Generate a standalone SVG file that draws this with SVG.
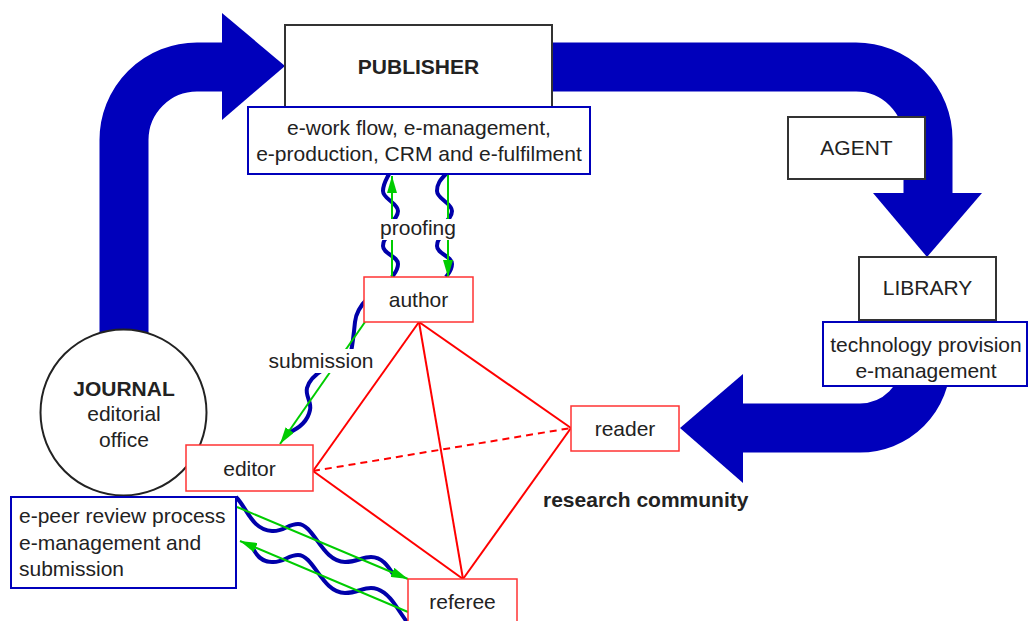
<svg xmlns="http://www.w3.org/2000/svg" width="1029" height="621" viewBox="0 0 1029 621">
<defs>
<style>
text { font-family: "Liberation Sans", Arial, Helvetica, sans-serif; font-size: 21px; fill: #222; }
.b { font-weight: bold; }
.mid { text-anchor: middle; }
.band { fill: none; stroke: #0000bb; stroke-width: 49; }
.head { fill: #0000bb; }
.gbox { fill: #fff; stroke: #333; stroke-width: 2; }
.bbox { fill: #fff; stroke: #0000bb; stroke-width: 2; }
.rbox { fill: #fff; stroke: #ff3333; stroke-width: 1.5; }
.rl { stroke: #ff0000; stroke-width: 2; fill: none; }
.dash { stroke-dasharray: 7,5; }
.wave { fill: none; stroke: #0000aa; stroke-width: 4; }
.ga { stroke: #00cc00; stroke-width: 2; fill: none; marker-end: url(#gh); }
.lbl { fill: #fff; }
</style>
<marker id="gh" markerUnits="userSpaceOnUse" markerWidth="18" markerHeight="10" refX="17" refY="5" orient="auto">
<path d="M0,0 L17,5 L0,10 z" fill="#00cc00"/>
</marker>
</defs>
<rect width="1029" height="621" fill="#fff"/>

<g id="flow">
<path class="band" d="M124,340 L124,140 A73,73 0 0 1 197,67 L226,67"/>
<polygon class="head" points="222,13 285,66 222,120"/>
<path class="band" d="M545,67 L856,67 A72,72 0 0 1 928,139 L928,197"/>
<polygon class="head" points="873,193 982,193 927,257"/>
<path class="band" d="M926,335 L926,362 A66,66 0 0 1 860,428 L739,428"/>
<polygon class="head" points="743,374 743,483 680,428"/>
</g>

<g id="connectors">
<path class="wave" d="M389,174 C386,180 383,184 383,191 C383,199 398,203 398,211 C398,216 394,220 390,224"/>
<path class="wave" d="M388,236 C385,239 383,241 383,246 C383,254 398,256 398,264 C398,270 395,273 392,277"/>
<path class="wave" d="M446,174 C440,180 437,184 437,191 C437,199 452,203 452,211 C452,216 448,220 444,224"/>
<path class="wave" d="M442,236 C439,239 437,241 437,246 C437,254 452,256 452,264 C452,270 449,273 446,277"/>
<line class="ga" x1="392" y1="277" x2="392" y2="176"/>
<line class="ga" x1="448" y1="174" x2="448" y2="277"/>
<rect class="lbl" x="378" y="219" width="80" height="21"/>
<text class="mid" x="418" y="235">proofing</text>

<path class="wave" d="M368,298 C362,304 356,312 355,322 C354,332 353,342 351,352"/>
<path class="wave" d="M324,369 C316,374 309,380 307,388 C305,396 312,402 310,410 C308,420 300,428 288,433"/>
<line class="ga" x1="365" y1="322" x2="280" y2="444"/>
<rect class="lbl" x="267" y="349" width="108" height="24"/>
<text class="mid" x="321" y="368">submission</text>

<path class="wave" d="M236,497 C247,508 252,530 272,531 C283,532 288,524 298,524 C314,524 322,562 345,562 C357,562 362,557 371,557 C382,557 388,566 393,574"/>
<path class="wave" d="M252,546 C256,556 262,562 272,562 C283,563 288,555 298,555 C314,555 322,593 345,593 C357,593 362,588 371,588 C382,588 390,597 396,606 C400,612 404,618 407,622"/>
<line class="ga" x1="237" y1="507" x2="408" y2="579"/>
<line class="ga" x1="408" y1="612" x2="240" y2="541"/>

<line class="rl" x1="419" y1="322" x2="313" y2="471"/>
<line class="rl" x1="419" y1="322" x2="571" y2="428"/>
<line class="rl" x1="419" y1="322" x2="463" y2="579"/>
<line class="rl" x1="313" y1="471" x2="463" y2="579"/>
<line class="rl" x1="571" y1="428" x2="463" y2="579"/>
<line class="rl dash" x1="313" y1="471" x2="571" y2="428"/>
</g>

<g id="publisher">
<rect class="gbox" x="285" y="25" width="267" height="90"/>
<text class="b mid" x="418.5" y="74">PUBLISHER</text>
</g>
<g id="publisher-services">
<rect class="bbox" x="248" y="107" width="342" height="67"/>
<text class="mid" x="419" y="135">e-work flow, e-management,</text>
<text class="mid" x="419" y="161">e-production, CRM and e-fulfilment</text>
</g>
<g id="agent">
<rect class="gbox" x="788" y="117" width="137" height="62"/>
<text class="mid" x="856.5" y="155">AGENT</text>
</g>
<g id="library">
<rect class="gbox" x="859" y="257" width="137" height="63"/>
<text class="mid" x="927.5" y="295">LIBRARY</text>
</g>
<g id="library-services">
<rect class="bbox" x="823" y="322" width="204" height="64"/>
<text class="mid" x="926" y="352">technology provision</text>
<text class="mid" x="926" y="378">e-management</text>
</g>
<g id="journal">
<circle cx="123.5" cy="412.5" r="83" fill="#fff" stroke="#222" stroke-width="2"/>
<text class="b mid" x="124" y="396">JOURNAL</text>
<text class="mid" x="124" y="421">editorial</text>
<text class="mid" x="124" y="447">office</text>
</g>
<g id="journal-services">
<rect class="bbox" x="11" y="497" width="225" height="91"/>
<text x="19" y="523">e-peer review process</text>
<text x="19" y="550">e-management and</text>
<text x="19" y="576">submission</text>
</g>
<g id="author">
<rect class="rbox" x="364" y="277" width="109" height="45"/>
<text class="mid" x="418.5" y="307">author</text>
</g>
<g id="editor">
<rect class="rbox" x="186" y="445" width="127" height="46"/>
<text class="mid" x="249.5" y="476">editor</text>
</g>
<g id="reader">
<rect class="rbox" x="571" y="406" width="108" height="45"/>
<text class="mid" x="625" y="436">reader</text>
</g>
<g id="referee">
<rect class="rbox" x="408" y="579" width="109" height="50"/>
<text class="mid" x="462.5" y="609">referee</text>
</g>
<g id="community">
<text class="b" x="543" y="507">research community</text>
</g>
</svg>
